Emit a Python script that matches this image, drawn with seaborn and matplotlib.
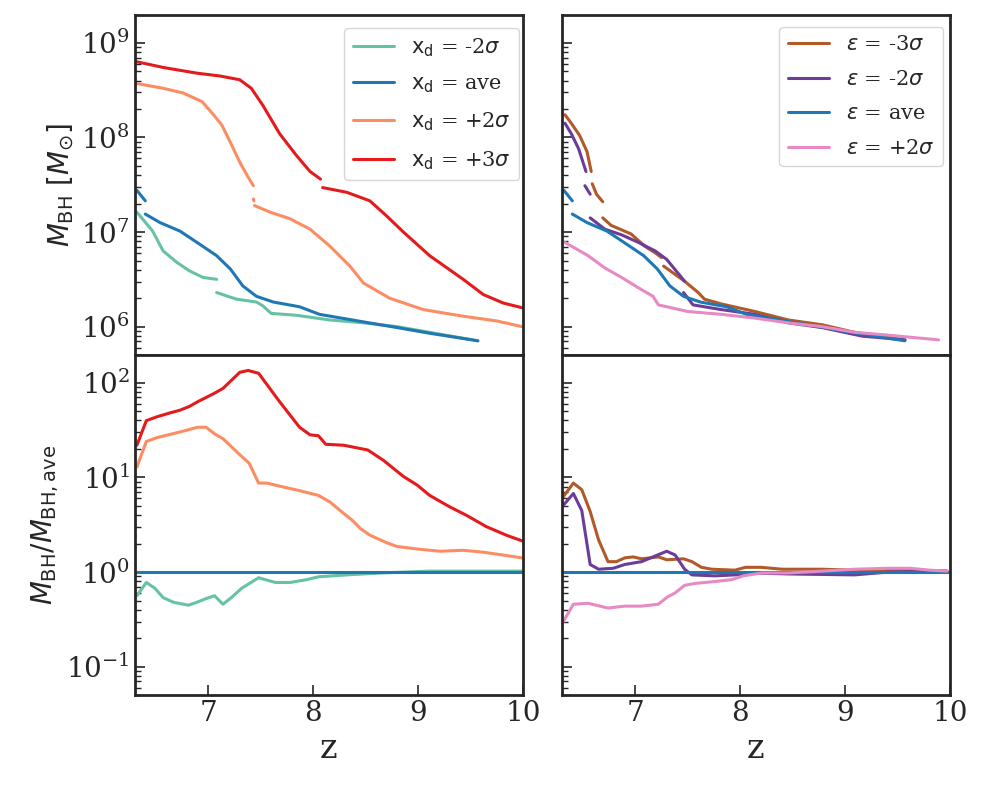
import numpy as np
import pandas as pd
import matplotlib
matplotlib.use('Agg')
import matplotlib.pyplot as plt
import seaborn as sns

# Data: redshift z and log10 of the black hole mass.
# NaN marks a gap in a track.
z_xd_m2 = [6.32, 6.47, 6.57, 6.70, 6.82, 6.95, 7.08, np.nan, 7.08, 7.27, 7.46, 7.52, 7.60,
           7.84, 8.16, 8.48, 8.80, 9.11, 9.57]
lm_xd_m2 = [7.21, 7.01, 6.80, 6.68, 6.59, 6.52, 6.50, np.nan, 6.36, 6.29, 6.26, 6.22, 6.14,
            6.12, 6.07, 6.04, 6.00, 5.94, 5.85]

z_ave = [6.32, 6.40, np.nan, 6.40, 6.54, 6.73, 6.92, 7.08, 7.21, 7.33, 7.46, 7.62, 7.87,
         8.06, 8.48, 8.80, 9.11, 9.57]
lm_ave = [7.44, 7.33, np.nan, 7.19, 7.10, 7.01, 6.87, 6.75, 6.61, 6.43, 6.32, 6.26, 6.21,
          6.13, 6.05, 5.99, 5.93, 5.85]

z_xd_p2 = [6.32, 6.57, 6.76, 6.94, 7.05, 7.13, 7.21, 7.30, 7.38, 7.43, np.nan, 7.43, 7.435,
           np.nan, 7.44, 7.59, 7.78, 7.97, 8.16, 8.35, 8.48, 8.73, 9.05, 9.43, 9.75, 9.99]
lm_xd_p2 = [8.57, 8.52, 8.47, 8.38, 8.24, 8.13, 7.95, 7.74, 7.58, 7.49, np.nan, 7.35, 7.33,
            np.nan, 7.28, 7.21, 7.14, 7.03, 6.85, 6.64, 6.46, 6.30, 6.18, 6.11, 6.06, 6.00]

z_xd_p3 = [6.32, 6.57, 6.89, 7.11, 7.30, 7.41, 7.52, 7.68, 7.84, 7.97, 8.07, np.nan, 8.09,
           8.32, 8.54, 8.70, 8.86, 9.11, 9.43, 9.62, 9.81, 9.99]
lm_xd_p3 = [8.80, 8.74, 8.68, 8.65, 8.61, 8.52, 8.34, 8.04, 7.81, 7.64, 7.56, np.nan, 7.47,
            7.42, 7.33, 7.17, 7.00, 6.75, 6.50, 6.34, 6.25, 6.20]

z_ep_m3 = [6.33, 6.39, 6.47, 6.54, 6.58, np.nan, 6.59, 6.63, 6.69, np.nan, 6.69, 6.77, 6.96,
           7.09, 7.19, 7.25, np.nan, 7.27, 7.47, 7.60, 7.66, 7.82, 8.14, 8.46, 8.78, 9.09, 9.57]
lm_ep_m3 = [8.24, 8.15, 8.02, 7.85, 7.64, np.nan, 7.51, 7.40, 7.32, np.nan, 7.15, 7.07, 6.98,
            6.85, 6.78, 6.73, np.nan, 6.64, 6.48, 6.36, 6.29, 6.24, 6.16, 6.07, 6.02, 5.94, 5.86]

z_ep_m2 = [6.33, 6.39, 6.46, 6.53, np.nan, 6.52, 6.57, np.nan, 6.57, 6.71, 6.87, 7.03, 7.19,
           7.30, 7.47, np.nan, 7.46, 7.55, 7.82, 8.14, 8.46, 8.78, 9.16, 9.57]
lm_ep_m2 = [8.15, 8.04, 7.88, 7.64, np.nan, 7.49, 7.40, np.nan, 7.15, 7.03, 6.97, 6.89, 6.80,
            6.71, 6.48, np.nan, 6.36, 6.23, 6.18, 6.13, 6.04, 5.99, 5.90, 5.86]

z_ep_p2 = [6.33, 6.55, 6.71, 6.87, 7.03, 7.17, 7.22, 7.50, 7.82, 8.14, 8.46, 8.78, 9.09,
           9.41, 9.89]
lm_ep_p2 = [6.89, 6.75, 6.62, 6.52, 6.41, 6.32, 6.23, 6.16, 6.13, 6.09, 6.04, 6.00, 5.94,
            5.91, 5.86]

# ratios to the average run, log10
zr_ave = [6.30, 10.0]
lr_ave = [0.0, 0.0]

zr_xd_m2 = [6.32, 6.41, 6.49, 6.57, 6.67, 6.81, 6.89, 6.98, 7.06, 7.14, 7.22, 7.32, 7.48,
            7.64, 7.78, 7.94, 8.05, 8.32, 8.64, 9.11, 9.43, 9.99]
lr_xd_m2 = [-0.25, -0.11, -0.17, -0.27, -0.32, -0.35, -0.32, -0.28, -0.25, -0.34, -0.27,
            -0.17, -0.06, -0.11, -0.11, -0.08, -0.05, -0.03, -0.01, 0.01, 0.01, 0.01]

zr_xd_p2 = [6.32, 6.41, 6.51, 6.73, 6.90, 6.98, 7.06, 7.14, 7.30, 7.39, 7.48, 7.56, 7.71,
            7.87, 8.05, 8.16, 8.29, 8.37, 8.45, 8.54, 8.70, 8.80, 9.02, 9.21, 9.43, 9.62,
            9.81, 9.99]
lr_xd_p2 = [1.11, 1.38, 1.42, 1.48, 1.53, 1.53, 1.46, 1.41, 1.24, 1.15, 0.94, 0.94, 0.90,
            0.86, 0.81, 0.74, 0.62, 0.55, 0.46, 0.39, 0.31, 0.27, 0.24, 0.22, 0.23, 0.21,
            0.18, 0.15]

zr_xd_p3 = [6.32, 6.41, 6.51, 6.63, 6.73, 6.82, 6.90, 7.06, 7.14, 7.30, 7.38, 7.48, 7.68,
            7.87, 7.97, 8.05, 8.12, 8.29, 8.52, 8.67, 8.86, 8.99, 9.11, 9.30, 9.46, 9.65,
            9.84, 9.99]
lr_xd_p3 = [1.34, 1.60, 1.64, 1.68, 1.71, 1.75, 1.80, 1.89, 1.94, 2.11, 2.13, 2.10, 1.80,
            1.53, 1.45, 1.44, 1.35, 1.34, 1.29, 1.18, 1.01, 0.92, 0.81, 0.69, 0.60, 0.48,
            0.39, 0.33]

zr_ep_m3 = [6.31, 6.41, 6.49, 6.57, 6.65, 6.74, 6.82, 6.90, 6.98, 7.06, 7.22, 7.30, 7.46,
            7.54, 7.63, 7.73, 7.95, 8.05, 8.20, 8.40, 8.78, 9.09, 9.57, 9.97]
lr_ep_m3 = [0.79, 0.94, 0.87, 0.64, 0.34, 0.11, 0.11, 0.15, 0.16, 0.14, 0.16, 0.13, 0.14,
            0.11, 0.05, 0.03, 0.02, 0.05, 0.05, 0.03, 0.03, 0.02, 0.02, 0.01]

zr_ep_m2 = [6.31, 6.41, 6.49, 6.57, 6.65, 6.79, 6.90, 7.06, 7.19, 7.30, 7.38, 7.47, 7.54,
            7.76, 7.95, 8.14, 8.46, 9.09, 9.41, 9.97]
lr_ep_m2 = [0.70, 0.83, 0.65, 0.08, 0.03, 0.04, 0.08, 0.11, 0.17, 0.22, 0.18, 0.03, -0.03,
            -0.04, -0.03, -0.01, -0.02, -0.03, 0.00, 0.01]

zr_ep_p2 = [6.31, 6.41, 6.55, 6.74, 6.90, 7.06, 7.22, 7.31, 7.38, 7.47, 7.57, 7.76, 7.92,
            8.03, 8.20, 8.46, 8.78, 9.09, 9.41, 9.62, 9.81, 9.97]
lr_ep_p2 = [-0.53, -0.34, -0.33, -0.38, -0.36, -0.36, -0.34, -0.26, -0.22, -0.14, -0.12,
            -0.10, -0.08, -0.04, -0.01, -0.01, 0.01, 0.03, 0.04, 0.04, 0.02, 0.01]

c_m2 = '#66c2a5'
c_ave = '#1f78b4'
c_p2 = '#fc8d62'
c_p3 = '#e41a1c'
c_em3 = '#b15928'
c_em2 = '#6a3d9a'
c_ep2 = '#e78ac3'

left_tracks = [
    (z_xd_m2, lm_xd_m2, c_m2, r'$\rm x_d$ = -2$\sigma$'),
    (z_ave, lm_ave, c_ave, r'$\rm x_d$ = ave'),
    (z_xd_p2, lm_xd_p2, c_p2, r'$\rm x_d$ = +2$\sigma$'),
    (z_xd_p3, lm_xd_p3, c_p3, r'$\rm x_d$ = +3$\sigma$'),
]
right_tracks = [
    (z_ep_m3, lm_ep_m3, c_em3, r'$\varepsilon$ = -3$\sigma$'),
    (z_ep_m2, lm_ep_m2, c_em2, r'$\varepsilon$ = -2$\sigma$'),
    (z_ave, lm_ave, c_ave, r'$\varepsilon$ = ave'),
    (z_ep_p2, lm_ep_p2, c_ep2, r'$\varepsilon$ = +2$\sigma$'),
]
left_ratios = [
    (zr_xd_m2, lr_xd_m2, c_m2),
    (zr_ave, lr_ave, c_ave),
    (zr_xd_p2, lr_xd_p2, c_p2),
    (zr_xd_p3, lr_xd_p3, c_p3),
]
right_ratios = [
    (zr_ep_m3, lr_ep_m3, c_em3),
    (zr_ep_m2, lr_ep_m2, c_em2),
    (zr_ave, lr_ave, c_ave),
    (zr_ep_p2, lr_ep_p2, c_ep2),
]

sns.set_theme(style='white')
plt.rcParams['font.family'] = ['DejaVu Serif']
plt.rcParams['mathtext.fontset'] = 'dejavusans'


def draw_track(ax, z, logv, color, label=None):
    # split at NaN so gaps in the track stay gaps
    df = pd.DataFrame({'z': z, 'v': 10 ** np.array(logv, dtype=float)})
    seg = df['v'].isna().cumsum()
    first = True
    for _, part in df.groupby(seg):
        part = part.dropna()
        if len(part) < 2:
            continue
        sns.lineplot(data=part, x='z', y='v', ax=ax, color=color, lw=2.2,
                     sort=False, estimator=None, label=label if first else None)
        first = False


fig, axes = plt.subplots(2, 2, figsize=(9.84, 7.9), dpi=100, sharex=True)
fig.subplots_adjust(left=0.137, right=0.9655, top=0.981, bottom=0.12,
                    hspace=0.0, wspace=0.1)

for z, lm, c, lab in left_tracks:
    draw_track(axes[0, 0], z, lm, c, lab)
for z, lm, c, lab in right_tracks:
    draw_track(axes[0, 1], z, lm, c, lab)
for z, lr, c in left_ratios:
    draw_track(axes[1, 0], z, lr, c)
for z, lr, c in right_ratios:
    draw_track(axes[1, 1], z, lr, c)

for ax in axes.flat:
    ax.set_yscale('log')
    ax.set_xlim(6.3, 10)
    ax.set_xlabel('')
    ax.set_ylabel('')
    for s in ax.spines.values():
        s.set_linewidth(2.0)
        s.set_color('#262626')
    ax.tick_params(which='both', direction='in', left=True, bottom=True,
                   colors='#262626', labelsize=20)
    ax.tick_params(which='major', length=7, width=1.2)
    ax.tick_params(which='minor', length=4, width=1.0)

for ax in axes[0]:
    ax.set_ylim(5e5, 1.97e9)
    ax.tick_params(axis='x', which='both', bottom=False, labelbottom=False)
for ax in axes[1]:
    ax.set_ylim(0.05, 196)
    ax.set_xticks([7, 8, 9, 10])
    ax.set_xlabel('z', fontsize=24)
for ax in axes[:, 1]:
    ax.tick_params(axis='y', labelleft=False)

axes[0, 0].set_ylabel(r'$M_{\rm BH}\ [M_{\odot}]$', fontsize=20)
axes[1, 0].set_ylabel(r'$M_{\rm BH}/M_{\rm BH,ave}$', fontsize=20)

axes[0, 0].legend(loc='upper right', bbox_to_anchor=(0.99, 0.962), borderaxespad=0,
                  fontsize=15, labelspacing=0.75, frameon=True)
axes[0, 1].legend(loc='upper right', bbox_to_anchor=(0.982, 0.965), borderaxespad=0,
                  fontsize=15, labelspacing=0.75, frameon=True)

plt.savefig('out.png', dpi=100)
